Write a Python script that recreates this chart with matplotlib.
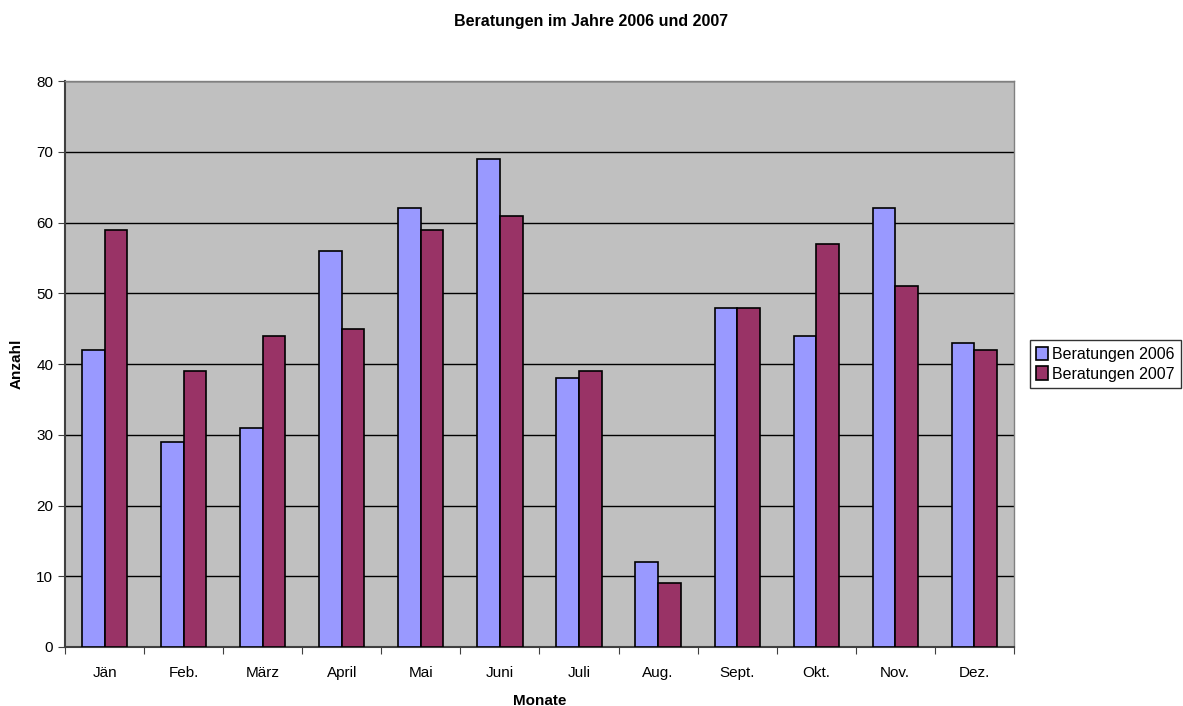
import numpy as np
import matplotlib.pyplot as plt

plt.rcParams['font.family'] = ['Liberation Sans', 'DejaVu Sans']

# Monatswerte
months = ['Jän', 'Feb.', 'März', 'April', 'Mai', 'Juni', 'Juli', 'Aug.',
          'Sept.', 'Okt.', 'Nov.', 'Dez.']
beratungen_2006 = [42, 29, 31, 56, 62, 69, 38, 12, 48, 44, 62, 43]
beratungen_2007 = [59, 39, 44, 45, 59, 61, 39, 9, 48, 57, 51, 42]

fig = plt.figure(figsize=(11.83, 7.06), dpi=100)
ax = fig.add_axes([0.055, 0.0836, 0.802, 0.8014])
ax.set_facecolor('#C0C0C0')

x = np.arange(len(months))
w = 1 / 3.5
ax.bar(x - w / 2, beratungen_2006, w, color='#9999FF', edgecolor='black',
       linewidth=1.2, label='Beratungen 2006', zorder=3)
ax.bar(x + w / 2, beratungen_2007, w, color='#993366', edgecolor='black',
       linewidth=1.2, label='Beratungen 2007', zorder=3)

ax.set_xlim(-0.5, len(months) - 0.5)
ax.set_ylim(0, 80)
ax.set_yticks(range(0, 81, 10))
ax.yaxis.grid(True, color='black', linewidth=1, zorder=1)
ax.set_axisbelow(True)

# Kategorie-Ticks an den Grenzen, Labels in der Mitte
ax.set_xticks(np.arange(-0.5, len(months) + 0.5, 1))
ax.set_xticklabels([])
ax.set_xticks(x, minor=True)
ax.set_xticklabels(months, minor=True)
ax.tick_params(axis='x', which='minor', length=0, pad=14, labelsize=11)
ax.tick_params(axis='x', which='major', length=5, color='#404040')
ax.tick_params(axis='y', length=5, color='#404040', labelsize=11)

for s in ['left', 'bottom']:
    ax.spines[s].set_color('#404040')
    ax.spines[s].set_linewidth(1.5)
for s in ['top', 'right']:
    ax.spines[s].set_color('#808080')
    ax.spines[s].set_linewidth(1)

fig.text(0.5, 0.969, 'Beratungen im Jahre 2006 und 2007', fontsize=11.5,
         fontweight='bold', ha='center', va='center')
ax.set_xlabel('Monate', fontsize=11, fontweight='bold', labelpad=10)
ax.set_ylabel('Anzahl', fontsize=11, fontweight='bold', labelpad=9)

leg = ax.legend(loc='center left', bbox_to_anchor=(1.017, 0.5), fontsize=11.5,
                frameon=True, fancybox=False, edgecolor='black', handlelength=0.7,
                handleheight=0.9, handletextpad=0.3, borderpad=0.4, labelspacing=0.3,
                borderaxespad=0)
leg.get_frame().set_linewidth(1)

plt.savefig('out.png', dpi=100)
